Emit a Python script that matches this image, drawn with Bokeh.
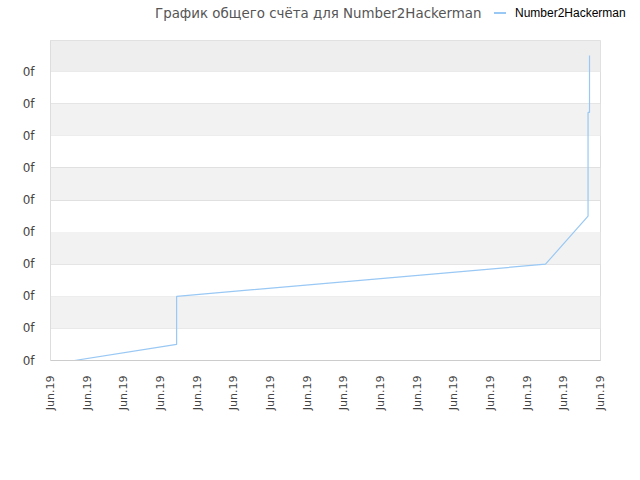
import math
from bokeh.plotting import figure
from bokeh.layouts import column
from bokeh.models import FixedTicker, BoxAnnotation, Range1d, Div
from bokeh.embed import file_html
from bokeh.resources import INLINE

title_text = "График общего счёта для Number2Hackerman"
series_name = "Number2Hackerman"
x_ticks = list(range(16))
x_tick_labels = ["Jun.19"] * 16
y_ticks = list(range(10))
y_tick_labels = ["0f"] * 10
score_x = [0.65, 3.44, 3.44, 13.5, 14.66, 14.66, 14.70, 14.70]
score_y = [0.0, 0.5, 2.0, 3.0, 4.5, 7.73, 7.73, 9.5]
line_color = "#99C8F4"

W = 632
HH = 30
H = 442

header_html = (
    f'<div style="position:relative;width:{W}px;height:{HH}px;">'
    f'<span style="position:absolute;left:155px;top:4px;white-space:nowrap;'
    f'font-family:\'DejaVu Sans\';font-size:13.4px;color:#555555;">{title_text}</span>'
    f'<span style="position:absolute;left:494px;top:12px;width:12px;height:2px;background:{line_color};"></span>'
    f'<span style="position:absolute;left:515px;top:5px;white-space:nowrap;'
    f'font-family:\'Liberation Sans\';font-size:12px;color:#000000;">{series_name}</span>'
    f'</div>'
)
hdr = Div(text=header_html, width=W, height=HH, margin=(0, 0, 0, 0))

p = figure(width=W, height=H, output_backend="svg", toolbar_location=None,
           x_range=Range1d(0, 15), y_range=Range1d(0, 9.97),
           min_border_left=50, min_border_right=32, min_border_top=10, min_border_bottom=112)
p.margin = (0, 0, 0, 0)
p.background_fill_color = "white"
p.border_fill_color = "white"
p.outline_line_color = "#DDDDDD"

for i in range(len(y_ticks)):
    lo = y_ticks[i]
    hi = y_ticks[i + 1] if i + 1 < len(y_ticks) else 9.97
    if i == len(y_ticks) - 1:
        col = "#EEEEEE"
    elif i % 2 == 1:
        col = "#F2F2F2"
    else:
        continue
    p.add_layout(BoxAnnotation(bottom=lo, top=hi, fill_color=col, fill_alpha=1.0, line_color=None, level="underlay"))

p.xgrid.visible = False
p.ygrid.grid_line_color = "#E0E0E0"
p.ygrid.ticker = FixedTicker(ticks=y_ticks)

r = p.line(score_x, score_y, line_color=line_color, line_width=1.2)

p.xaxis.ticker = FixedTicker(ticks=x_ticks)
p.xaxis.major_label_overrides = {t: l for t, l in zip(x_ticks, x_tick_labels)}
p.xaxis.major_label_orientation = math.pi / 2
p.xaxis.axis_line_color = "#CCCCCC"
p.xaxis.major_tick_line_color = None
p.xaxis.minor_tick_line_color = None
p.xaxis.major_label_text_font = "DejaVu Sans"
p.xaxis.major_label_text_font_size = "11px"
p.xaxis.major_label_text_color = "#444444"
p.xaxis.major_label_standoff = 9

p.yaxis.ticker = FixedTicker(ticks=y_ticks)
p.yaxis.major_label_overrides = {t: l for t, l in zip(y_ticks, y_tick_labels)}
p.yaxis.axis_line_color = "#DDDDDD"
p.yaxis.major_tick_line_color = None
p.yaxis.minor_tick_line_color = None
p.yaxis.major_label_text_font = "DejaVu Sans"
p.yaxis.major_label_text_font_size = "12px"
p.yaxis.major_label_text_color = "#444444"
p.yaxis.major_label_standoff = 10

layout = column(hdr, p, spacing=0)
open("out.html", "w").write(file_html(layout, INLINE))
